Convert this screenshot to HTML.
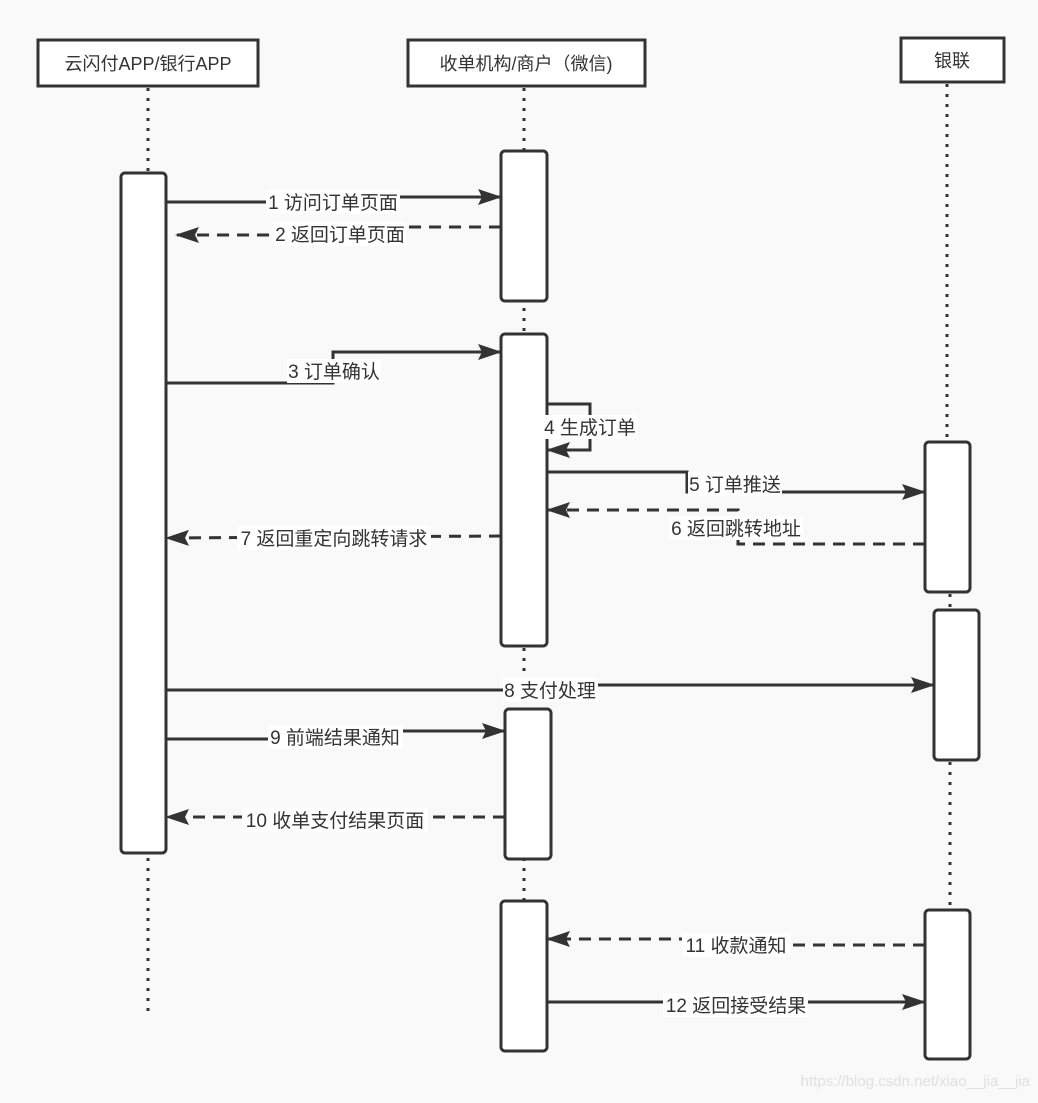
<!DOCTYPE html>
<html><head><meta charset="utf-8"><style>
html,body{margin:0;padding:0;background:#f9f9f9;}
svg text{font-family:"Liberation Sans","Noto Sans CJK SC",sans-serif;fill:#333;}
</style></head><body>
<svg width="1038" height="1098" viewBox="0 0 1038 1098" xmlns="http://www.w3.org/2000/svg">
<defs>
<marker id="a" viewBox="0 0 24 16" refX="23" refY="8" markerWidth="24" markerHeight="16" markerUnits="userSpaceOnUse" orient="auto">
<path d="M0,0 L24,8 L0,16 L4,8 Z" fill="#333"/>
</marker>
</defs>
<rect width="1038" height="1098" fill="#f9f9f9"/>
<g stroke="#333" stroke-width="3" stroke-dasharray="3,7" fill="none">
<line x1="148" y1="88" x2="148" y2="1014"/>
<line x1="524" y1="88" x2="524" y2="900"/>
<line x1="947" y1="84" x2="947" y2="440"/>
<line x1="950" y1="594" x2="950" y2="610"/>
<line x1="950" y1="762" x2="950" y2="910"/>
</g>
<g stroke="#333" stroke-width="3" fill="#fff">
<rect x="38" y="40" width="220" height="46"/>
<rect x="408" y="40" width="237" height="46"/>
<rect x="901" y="38" width="103" height="44"/>
</g>
<g font-size="18" text-anchor="middle">
<text x="148" y="70">云闪付APP/银行APP</text>
<text x="526" y="70">收单机构/商户（微信)</text>
<text x="952" y="67">银联</text>
</g>
<g stroke="#333" stroke-width="3" fill="#fff">
<rect x="121" y="173" width="45" height="680" rx="4"/>
<rect x="501" y="151" width="46" height="150" rx="4"/>
<rect x="501" y="334" width="46" height="312" rx="4"/>
<rect x="505" y="709" width="46" height="150" rx="4"/>
<rect x="501" y="901" width="46" height="150" rx="4"/>
<rect x="925" y="442" width="45" height="150" rx="4"/>
<rect x="934" y="610" width="45" height="150" rx="4"/>
<rect x="925" y="910" width="45" height="149" rx="4"/>
</g>
<g stroke="#333" stroke-width="3" fill="none">
<polyline points="166,202 333,202 333,197 501,197" marker-end="url(#a)"/>
<polyline points="501,227 333,227 333,235 176,235" stroke-dasharray="12,8" marker-end="url(#a)"/>
<polyline points="166,383 333,383 333,352 501,352" marker-end="url(#a)"/>
<polyline points="547,404 590,404 590,450 547,450" marker-end="url(#a)"/>
<polyline points="547,472 687,472 687,492 925,492" marker-end="url(#a)"/>
<polyline points="925,544 738,544 738,510 547,510" stroke-dasharray="12,8" marker-end="url(#a)"/>
<polyline points="501,536 166,538" stroke-dasharray="12,8" marker-end="url(#a)"/>
<polyline points="166,690 550,690 550,685 934,685" marker-end="url(#a)"/>
<polyline points="166,739 335,739 335,731 505,731" marker-end="url(#a)"/>
<polyline points="505,817 166,817" stroke-dasharray="12,8" marker-end="url(#a)"/>
<polyline points="925,945 736,945 736,939 547,939" stroke-dasharray="12,8" marker-end="url(#a)"/>
<polyline points="547,1002 925,1002" marker-end="url(#a)"/>
</g>
<g fill="#fff">
<rect x="266" y="190" width="134" height="24"/>
<rect x="273" y="222" width="133" height="24"/>
<rect x="287" y="359" width="94" height="24"/>
<rect x="543" y="415" width="95" height="24"/>
<rect x="688" y="472" width="94" height="24"/>
<rect x="669" y="516" width="134" height="24"/>
<rect x="237" y="526" width="194" height="24"/>
<rect x="503" y="678" width="95" height="24"/>
<rect x="268" y="725" width="135" height="24"/>
<rect x="242" y="808" width="186" height="24"/>
<rect x="682" y="933" width="108" height="24"/>
<rect x="663" y="993" width="145" height="24"/>
</g>
<g font-size="19" text-anchor="middle">
<text x="333" y="209">1 访问订单页面</text>
<text x="340" y="241">2 返回订单页面</text>
<text x="334" y="378">3 订单确认</text>
<text x="590" y="434">4 生成订单</text>
<text x="735" y="491">5 订单推送</text>
<text x="736" y="535">6 返回跳转地址</text>
<text x="334" y="545">7 返回重定向跳转请求</text>
<text x="550" y="697">8 支付处理</text>
<text x="335" y="744">9 前端结果通知</text>
<text x="335" y="827">10 收单支付结果页面</text>
<text x="736" y="952">11 收款通知</text>
<text x="736" y="1012">12 返回接受结果</text>
</g>
<text x="1030" y="1086" font-size="15" text-anchor="end" style="fill:#e0e0e0">https://blog.csdn.net/xiao__jia__jia</text>
</svg>
</body></html>
